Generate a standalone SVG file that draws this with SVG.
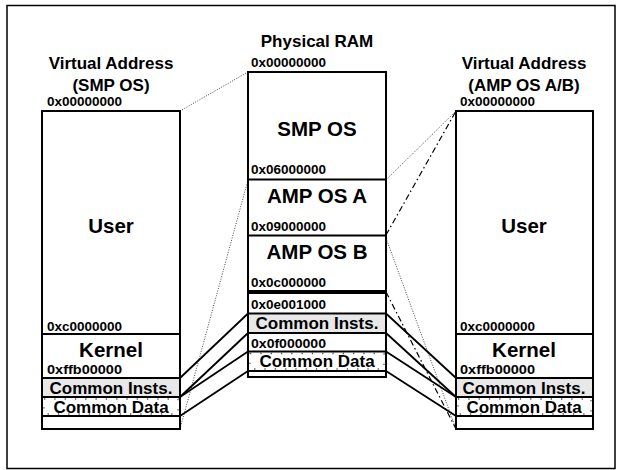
<svg xmlns="http://www.w3.org/2000/svg" width="622" height="470" viewBox="0 0 622 470">
<style>
text{font-family:"Liberation Sans",Arial,sans-serif;font-weight:bold;fill:#000}
.t{font-size:17px;text-anchor:middle}
.a{font-size:13px}
.b{font-size:20.5px;text-anchor:middle}
.c{font-size:17px;text-anchor:middle}
.box{fill:#fff;stroke:#000;stroke-width:2}
.ln{stroke:#000;stroke-width:2;fill:none}
.gray{fill:#e8e8e8;stroke:none}
.tick{fill:none;stroke:#555;stroke-width:1.3;stroke-dasharray:1.3 9}
.dot{stroke:#333;stroke-width:0.9;stroke-dasharray:1 1.5;fill:none}
.dd{stroke:#000;stroke-width:1.2;stroke-dasharray:6 3 1.5 3;fill:none}
.sol{stroke:#000;stroke-width:1.8;fill:none}
</style>
<rect x="7" y="5.5" width="608" height="463" fill="#fff" stroke="#000" stroke-width="1.5"/>

<g id="connectors">
<line class="dot" x1="180" y1="111" x2="248" y2="72"/>
<line class="dot" x1="180" y1="429" x2="248" y2="180"/>
<line class="dot" x1="386" y1="180" x2="456" y2="111"/>
<line class="dot" x1="386" y1="238" x2="456" y2="429"/>
<line class="dd" x1="386" y1="235" x2="456" y2="111"/>
<line class="dd" x1="386" y1="292" x2="456" y2="429"/>
<line class="sol" x1="180" y1="378" x2="248" y2="313.5"/>
<line class="sol" x1="180" y1="397" x2="248" y2="333"/>
<line class="sol" x1="180" y1="397" x2="248" y2="351.5"/>
<line class="sol" x1="180" y1="416" x2="248" y2="371"/>
<line class="sol" x1="386" y1="313.5" x2="456" y2="378"/>
<line class="sol" x1="386" y1="333" x2="456" y2="397"/>
<line class="sol" x1="386" y1="351.5" x2="456" y2="397"/>
<line class="sol" x1="386" y1="371" x2="456" y2="416"/>
</g>

<g id="left-vas">
<text class="t" x="111" y="69">Virtual Address</text>
<text class="t" x="111" y="91">(SMP OS)</text>
<text class="a" x="47" y="106" textLength="75" lengthAdjust="spacingAndGlyphs">0x00000000</text>
<rect class="box" x="42" y="111" width="138" height="318"/>
<rect class="gray" x="43" y="379" width="136" height="17"/>
<rect class="tick" x="44" y="399" width="134" height="15"/>
<line class="ln" x1="42" y1="334" x2="180" y2="334"/>
<line class="ln" x1="42" y1="378" x2="180" y2="378"/>
<line class="ln" x1="42" y1="397" x2="180" y2="397"/>
<line class="ln" x1="42" y1="416" x2="180" y2="416"/>
<text class="b" x="111" y="233">User</text>
<text class="a" x="47" y="331" textLength="75" lengthAdjust="spacingAndGlyphs">0xc0000000</text>
<text class="b" x="111" y="357">Kernel</text>
<text class="a" x="47" y="374" textLength="75" lengthAdjust="spacingAndGlyphs">0xffb00000</text>
<text class="c" x="111" y="394">Common Insts.</text>
<text class="c" x="111" y="413">Common Data</text>
</g>

<g id="physical-ram">
<text class="t" x="317" y="47">Physical RAM</text>
<text class="a" x="251" y="67" textLength="75" lengthAdjust="spacingAndGlyphs">0x00000000</text>
<rect class="box" x="248" y="72" width="138" height="305"/>
<rect class="gray" x="249" y="314.5" width="136" height="17.5"/>
<rect class="tick" x="250" y="353.5" width="134" height="15.5"/>
<line class="ln" x1="248" y1="179.5" x2="386" y2="179.5"/>
<line class="ln" x1="248" y1="235.5" x2="386" y2="235.5"/>
<line class="ln" x1="248" y1="291" x2="386" y2="291"/>
<line class="ln" x1="248" y1="293" x2="386" y2="293"/>
<line class="ln" x1="248" y1="313.5" x2="386" y2="313.5"/>
<line class="ln" x1="248" y1="333" x2="386" y2="333"/>
<line class="ln" x1="248" y1="351.5" x2="386" y2="351.5"/>
<line class="ln" x1="248" y1="371" x2="386" y2="371"/>
<text class="b" x="317" y="136">SMP OS</text>
<text class="a" x="251" y="174" textLength="75" lengthAdjust="spacingAndGlyphs">0x06000000</text>
<text class="b" x="317" y="203">AMP OS A</text>
<text class="a" x="251" y="231" textLength="75" lengthAdjust="spacingAndGlyphs">0x09000000</text>
<text class="b" x="317" y="259">AMP OS B</text>
<text class="a" x="251" y="287" textLength="75" lengthAdjust="spacingAndGlyphs">0x0c000000</text>
<text class="a" x="251" y="309" textLength="75" lengthAdjust="spacingAndGlyphs">0x0e001000</text>
<text class="c" x="317" y="329">Common Insts.</text>
<text class="a" x="251" y="348" textLength="75" lengthAdjust="spacingAndGlyphs">0x0f000000</text>
<text class="c" x="317" y="367">Common Data</text>
</g>

<g id="right-vas">
<text class="t" x="524" y="69">Virtual Address</text>
<text class="t" x="524" y="91">(AMP OS A/B)</text>
<text class="a" x="460" y="106" textLength="75" lengthAdjust="spacingAndGlyphs">0x00000000</text>
<rect class="box" x="456" y="111" width="137" height="318"/>
<rect class="gray" x="457" y="379" width="135" height="17"/>
<rect class="tick" x="458" y="399" width="133" height="15"/>
<line class="ln" x1="456" y1="334" x2="593" y2="334"/>
<line class="ln" x1="456" y1="378" x2="593" y2="378"/>
<line class="ln" x1="456" y1="397" x2="593" y2="397"/>
<line class="ln" x1="456" y1="416" x2="593" y2="416"/>
<text class="b" x="524" y="233">User</text>
<text class="a" x="460" y="331" textLength="75" lengthAdjust="spacingAndGlyphs">0xc0000000</text>
<text class="b" x="524" y="357">Kernel</text>
<text class="a" x="460" y="374" textLength="75" lengthAdjust="spacingAndGlyphs">0xffb00000</text>
<text class="c" x="524" y="394">Common Insts.</text>
<text class="c" x="524" y="413">Common Data</text>
</g>
</svg>
